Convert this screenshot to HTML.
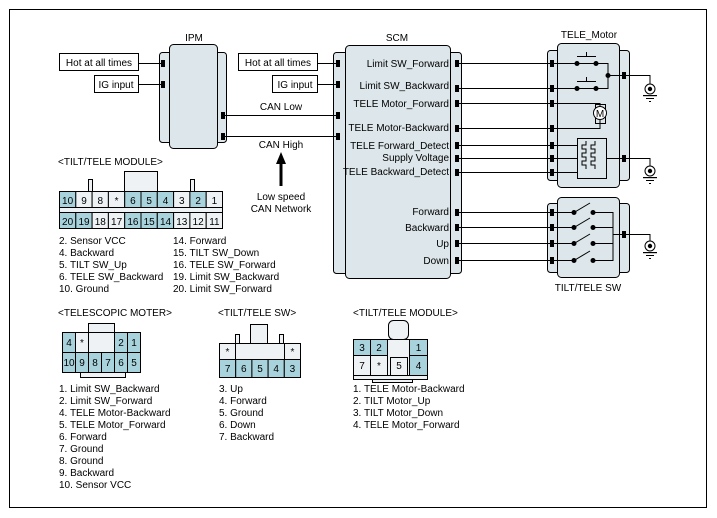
<!DOCTYPE html>
<html><head><meta charset="utf-8"><style>
body{margin:0;background:#fff}
svg{display:block}
text{font-family:"Liberation Sans",sans-serif;font-size:10px;fill:#000}
</style></head><body>
<svg width="717" height="518" viewBox="0 0 717 518" xmlns="http://www.w3.org/2000/svg">
<rect x="9.5" y="9.5" width="697" height="498" fill="none" stroke="#000" stroke-width="1"/>
<g stroke="#000" stroke-width="1" fill="#dde6ea">
<rect x="159.5" y="52.5" width="67" height="90" rx="3"/>
<rect x="169.5" y="44.5" width="48" height="104" rx="4"/>
<rect x="333.5" y="52.5" width="128" height="221" rx="3"/>
<rect x="345.5" y="45.5" width="105" height="233" rx="4"/>
<rect x="547.5" y="50.5" width="82" height="130" rx="3"/>
<rect x="557.5" y="43.5" width="62" height="144" rx="4"/>
<rect x="547.5" y="203.5" width="82" height="69" rx="3"/>
<rect x="557.5" y="197.5" width="62" height="80" rx="4"/>
</g>
<g stroke="#000" fill="#fff">
<rect x="59.5" y="53.5" width="79" height="17"/>
<rect x="94.5" y="75.5" width="44" height="17"/>
<rect x="238.5" y="53.5" width="79" height="17"/>
<rect x="272.5" y="75.5" width="45" height="17"/>
</g>
<text x="99" y="66" text-anchor="middle">Hot at all times</text>
<text x="116" y="88" text-anchor="middle">IG input</text>
<text x="278" y="66" text-anchor="middle">Hot at all times</text>
<text x="295" y="88" text-anchor="middle">IG input</text>
<text x="194" y="41" text-anchor="middle">IPM</text>
<text x="397" y="41" text-anchor="middle">SCM</text>
<text x="589" y="38" text-anchor="middle">TELE_Motor</text>
<text x="588" y="291" text-anchor="middle">TILT/TELE SW</text>
<text x="281" y="110" text-anchor="middle">CAN Low</text>
<text x="281" y="148" text-anchor="middle">CAN High</text>
<text x="281" y="200" text-anchor="middle">Low speed</text>
<text x="281" y="212" text-anchor="middle">CAN Network</text>
<g stroke="#000" stroke-width="1" fill="none">
<path d="M138 63.5H163M138 84.5H163M317 63.5H338M317 84.5H338M223 115.5H338M223 136.5H338"/>
<path d="M457 63.5H552M457 88.5H552M457 103.5H552M457 128.5H552M457 145.5H552M457 158.5H552M457 172.5H552"/>
<path d="M457 212.5H552M457 227.5H552M457 243.5H552M457 260.5H552"/>
<path d="M552 63.5H596M596 63.5H608V88.5H552M577 56.5H596M586.5 52V56.5M577 81.5H596M586.5 77V81.5M608 75.5H624"/>
<path d="M552 103.5H600V106M600 120V128.5H552"/>
<rect x="595.5" y="104.5" width="10" height="19"/>
<path d="M552 145.5H578M552 158.5H578M552 172.5H578M607 158.5H624"/>
<rect x="577.5" y="138.5" width="29" height="40"/>
<path d="M586 141v4h-4v4h4v4h-4v4h4v4h-4v4h4v4M595 141v4h-4v4h4v4h-4v4h4v4h-4v4h4v4"/>
<path d="M624 75.5H650V84M624 158.5H650V166M624 234.5H650V241"/>
<path d="M552 212.5H574L590 203M552 227.5H574L590 218M552 243.5H574L590 234M552 260.5H574L590 251M593 212.5H613V260.5H593M593 227.5H613M593 243.5H613M613 234.5H624"/>
</g>
<circle cx="600" cy="113" r="6.5" fill="#fff" stroke="#000"/>
<text x="600" y="117" text-anchor="middle" font-size="9">M</text>
<g fill="#000">
<circle cx="577" cy="63.5" r="2.5"/><circle cx="596" cy="63.5" r="2.5"/><circle cx="577" cy="88.5" r="2.5"/><circle cx="596" cy="88.5" r="2.5"/><circle cx="608" cy="75.5" r="2.5"/>
<circle cx="574" cy="212.5" r="2.5"/><circle cx="593" cy="212.5" r="2.5"/><circle cx="574" cy="227.5" r="2.5"/><circle cx="593" cy="227.5" r="2.5"/><circle cx="574" cy="243.5" r="2.5"/><circle cx="593" cy="243.5" r="2.5"/><circle cx="574" cy="260.5" r="2.5"/><circle cx="593" cy="260.5" r="2.5"/>
<rect x="161" y="60" width="4" height="7"/><rect x="161" y="81" width="4" height="7"/>
<rect x="221" y="112" width="4" height="7"/><rect x="221" y="133" width="4" height="7"/>
<rect x="336" y="60" width="4" height="7"/><rect x="336" y="81" width="4" height="7"/><rect x="336" y="112" width="4" height="7"/><rect x="336" y="133" width="4" height="7"/>
<rect x="455" y="60" width="4" height="7"/><rect x="455" y="85" width="4" height="7"/><rect x="455" y="100" width="4" height="7"/><rect x="455" y="125" width="4" height="7"/><rect x="455" y="142" width="4" height="7"/><rect x="455" y="155" width="4" height="7"/><rect x="455" y="169" width="4" height="7"/>
<rect x="455" y="209" width="4" height="7"/><rect x="455" y="224" width="4" height="7"/><rect x="455" y="240" width="4" height="7"/><rect x="455" y="257" width="4" height="7"/>
<rect x="550" y="60" width="4" height="7"/><rect x="550" y="85" width="4" height="7"/><rect x="550" y="100" width="4" height="7"/><rect x="550" y="125" width="4" height="7"/><rect x="550" y="142" width="4" height="7"/><rect x="550" y="155" width="4" height="7"/><rect x="550" y="169" width="4" height="7"/>
<rect x="550" y="209" width="4" height="7"/><rect x="550" y="224" width="4" height="7"/><rect x="550" y="240" width="4" height="7"/><rect x="550" y="257" width="4" height="7"/>
<rect x="622" y="72" width="4" height="7"/><rect x="622" y="155" width="4" height="7"/><rect x="622" y="231" width="4" height="7"/>
<rect x="279.5" y="162" width="3" height="24"/>
<polygon points="281,152 276,164 286,164"/>
</g>
<g stroke="#000" fill="#fff">
<circle cx="650" cy="89" r="5"/><circle cx="650" cy="171" r="5"/><circle cx="650" cy="246" r="5"/>
</g>
<g fill="#000">
<circle cx="650" cy="89" r="2.2"/><circle cx="650" cy="171" r="2.2"/><circle cx="650" cy="246" r="2.2"/>
<rect x="643" y="95" width="14" height="1.2"/><rect x="646" y="98" width="8" height="1"/><rect x="649" y="101" width="2" height="1"/>
<rect x="643" y="177" width="14" height="1.2"/><rect x="646" y="180" width="8" height="1"/><rect x="649" y="183" width="2" height="1"/>
<rect x="643" y="252" width="14" height="1.2"/><rect x="646" y="255" width="8" height="1"/><rect x="649" y="258" width="2" height="1"/>
</g>
<g font-size="9">
<text x="449" y="67" text-anchor="end">Limit SW_Forward</text>
<text x="449" y="89" text-anchor="end">Limit  SW_Backward</text>
<text x="449" y="107" text-anchor="end">TELE Motor_Forward</text>
<text x="449" y="131" text-anchor="end">TELE Motor-Backward</text>
<text x="449" y="149" text-anchor="end">TELE Forward_Detect</text>
<text x="449" y="161" text-anchor="end">Supply Voltage</text>
<text x="449" y="175" text-anchor="end">TELE Backward_Detect</text>
<text x="449" y="215" text-anchor="end" font-size="9.5">Forward</text>
<text x="449" y="231" text-anchor="end" font-size="9.5">Backward</text>
<text x="449" y="247" text-anchor="end" font-size="9.5">Up</text>
<text x="449" y="264" text-anchor="end" font-size="9.5">Down</text>
</g>
<text x="58" y="165">&lt;TILT/TELE MODULE&gt;</text>
<g stroke="#000" fill="#eef2f4">
<rect x="124.5" y="171.5" width="33" height="20"/>
<rect x="88.5" y="179.5" width="4" height="12"/>
<rect x="190.5" y="179.5" width="4" height="12"/>
<rect x="59.5" y="207.5" width="163" height="5"/>
</g>
<g stroke="#000" fill="#eef2f4">
<rect x="59.5" y="191.5" width="16.3" height="16" fill="#a9d3dc"/><rect x="75.8" y="191.5" width="16.3" height="16"/><rect x="92.1" y="191.5" width="16.3" height="16"/><rect x="108.4" y="191.5" width="16.3" height="16"/><rect x="124.7" y="191.5" width="16.3" height="16" fill="#a9d3dc"/><rect x="141" y="191.5" width="16.3" height="16" fill="#a9d3dc"/><rect x="157.3" y="191.5" width="16.3" height="16" fill="#a9d3dc"/><rect x="173.6" y="191.5" width="16.3" height="16"/><rect x="189.9" y="191.5" width="16.3" height="16" fill="#a9d3dc"/><rect x="206.2" y="191.5" width="16.3" height="16"/>
<rect x="59.5" y="212.5" width="16.3" height="16" fill="#a9d3dc"/><rect x="75.8" y="212.5" width="16.3" height="16" fill="#a9d3dc"/><rect x="92.1" y="212.5" width="16.3" height="16"/><rect x="108.4" y="212.5" width="16.3" height="16"/><rect x="124.7" y="212.5" width="16.3" height="16" fill="#a9d3dc"/><rect x="141" y="212.5" width="16.3" height="16" fill="#a9d3dc"/><rect x="157.3" y="212.5" width="16.3" height="16" fill="#a9d3dc"/><rect x="173.6" y="212.5" width="16.3" height="16"/><rect x="189.9" y="212.5" width="16.3" height="16"/><rect x="206.2" y="212.5" width="16.3" height="16"/>
</g>
<g text-anchor="middle">
<text x="67.6" y="204">10</text><text x="84" y="204">9</text><text x="100.3" y="204">8</text><text x="116.6" y="204">*</text><text x="132.9" y="204">6</text><text x="149.2" y="204">5</text><text x="165.5" y="204">4</text><text x="181.8" y="204">3</text><text x="198.1" y="204">2</text><text x="214.4" y="204">1</text>
<text x="67.6" y="225">20</text><text x="84" y="225">19</text><text x="100.3" y="225">18</text><text x="116.6" y="225">17</text><text x="132.9" y="225">16</text><text x="149.2" y="225">15</text><text x="165.5" y="225">14</text><text x="181.8" y="225">13</text><text x="198.1" y="225">12</text><text x="214.4" y="225">11</text>
</g>
<g font-size="9.5">
<text x="59" y="244">2. Sensor VCC</text><text x="59" y="256">4. Backward</text><text x="59" y="268">5. TILT SW_Up</text><text x="59" y="280">6. TELE SW_Backward</text><text x="59" y="292">10. Ground</text>
<text x="173" y="244">14. Forward</text><text x="173" y="256">15. TILT SW_Down</text><text x="173" y="268">16. TELE SW_Forward</text><text x="173" y="280">19. Limit SW_Backward</text><text x="173" y="292">20. Limit SW_Forward</text>
</g>
<text x="58" y="316">&lt;TELESCOPIC MOTER&gt;</text>
<text x="218" y="316">&lt;TILT/TELE SW&gt;</text>
<text x="353" y="316">&lt;TILT/TELE MODULE&gt;</text>
<g stroke="#000" fill="#eef2f4">
<rect x="88.5" y="323.5" width="26" height="10"/>
<rect x="80.5" y="372.5" width="45" height="5"/>
<rect x="62.5" y="332.5" width="13" height="20" fill="#a9d3dc"/><rect x="75.5" y="332.5" width="13" height="20"/><rect x="88.5" y="332.5" width="26" height="20"/><rect x="114.5" y="332.5" width="13" height="20" fill="#a9d3dc"/><rect x="127.5" y="332.5" width="13" height="20" fill="#a9d3dc"/>
<rect x="62.5" y="352.5" width="13" height="20" fill="#a9d3dc"/><rect x="75.5" y="352.5" width="13" height="20" fill="#a9d3dc"/><rect x="88.5" y="352.5" width="13" height="20" fill="#a9d3dc"/><rect x="101.5" y="352.5" width="13" height="20" fill="#a9d3dc"/><rect x="114.5" y="352.5" width="13" height="20" fill="#a9d3dc"/><rect x="127.5" y="352.5" width="13" height="20" fill="#a9d3dc"/>
<rect x="250.5" y="324.5" width="17" height="19"/>
<rect x="235.5" y="334.5" width="4" height="9"/><rect x="279.5" y="334.5" width="4" height="9"/>
<rect x="219.5" y="343.5" width="16" height="16"/><rect x="235.5" y="343.5" width="49" height="16"/><rect x="284.5" y="343.5" width="16" height="16"/>
<rect x="219.5" y="359.5" width="16.2" height="18" fill="#a9d3dc"/><rect x="235.7" y="359.5" width="16.2" height="18" fill="#a9d3dc"/><rect x="251.9" y="359.5" width="16.2" height="18" fill="#a9d3dc"/><rect x="268.1" y="359.5" width="16.2" height="18" fill="#a9d3dc"/><rect x="284.3" y="359.5" width="16.2" height="18" fill="#a9d3dc"/>
<rect x="388.5" y="320.5" width="20" height="19" rx="5"/>
<rect x="372.5" y="375.5" width="40" height="7"/>
<rect x="353.5" y="375.5" width="74" height="4"/>
<rect x="353.5" y="339.5" width="17" height="16" fill="#a9d3dc"/><rect x="370.5" y="339.5" width="17" height="16" fill="#a9d3dc"/><rect x="387.5" y="339.5" width="22" height="36"/><rect x="409.5" y="339.5" width="18" height="16" fill="#a9d3dc"/>
<rect x="353.5" y="355.5" width="17" height="20"/><rect x="370.5" y="355.5" width="17" height="20"/><rect x="390.5" y="357.5" width="17" height="18"/><rect x="409.5" y="355.5" width="18" height="20" fill="#a9d3dc"/>
</g>
<g text-anchor="middle">
<text x="69" y="346">4</text><text x="82" y="346">*</text><text x="121" y="346">2</text><text x="134" y="346">1</text>
<text x="69" y="366">10</text><text x="82" y="366">9</text><text x="95" y="366">8</text><text x="108" y="366">7</text><text x="121" y="366">6</text><text x="134" y="366">5</text>
<text x="227.5" y="355">*</text><text x="292.5" y="355">*</text>
<text x="227.6" y="372">7</text><text x="243.8" y="372">6</text><text x="260" y="372">5</text><text x="276.2" y="372">4</text><text x="292.4" y="372">3</text>
<text x="362" y="351">3</text><text x="379" y="351">2</text><text x="418.5" y="351">1</text>
<text x="362" y="369">7</text><text x="379" y="369">*</text><text x="399" y="369">5</text><text x="418.5" y="369">4</text>
</g>
<g font-size="9.5">
<text x="59" y="392">1. Limit SW_Backward</text><text x="59" y="404">2. Limit SW_Forward</text><text x="59" y="416">4. TELE Motor-Backward</text><text x="59" y="428">5. TELE Motor_Forward</text><text x="59" y="440">6. Forward</text><text x="59" y="452">7. Ground</text><text x="59" y="464">8. Ground</text><text x="59" y="476">9. Backward</text><text x="59" y="488">10. Sensor VCC</text>
<text x="219" y="392">3. Up</text><text x="219" y="404">4. Forward</text><text x="219" y="416">5. Ground</text><text x="219" y="428">6. Down</text><text x="219" y="440">7. Backward</text>
<text x="353" y="392">1. TELE Motor-Backward</text><text x="353" y="404">2. TILT Motor_Up</text><text x="353" y="416">3. TILT Motor_Down</text><text x="353" y="428">4. TELE Motor_Forward</text>
</g>
</svg>
</body></html>
